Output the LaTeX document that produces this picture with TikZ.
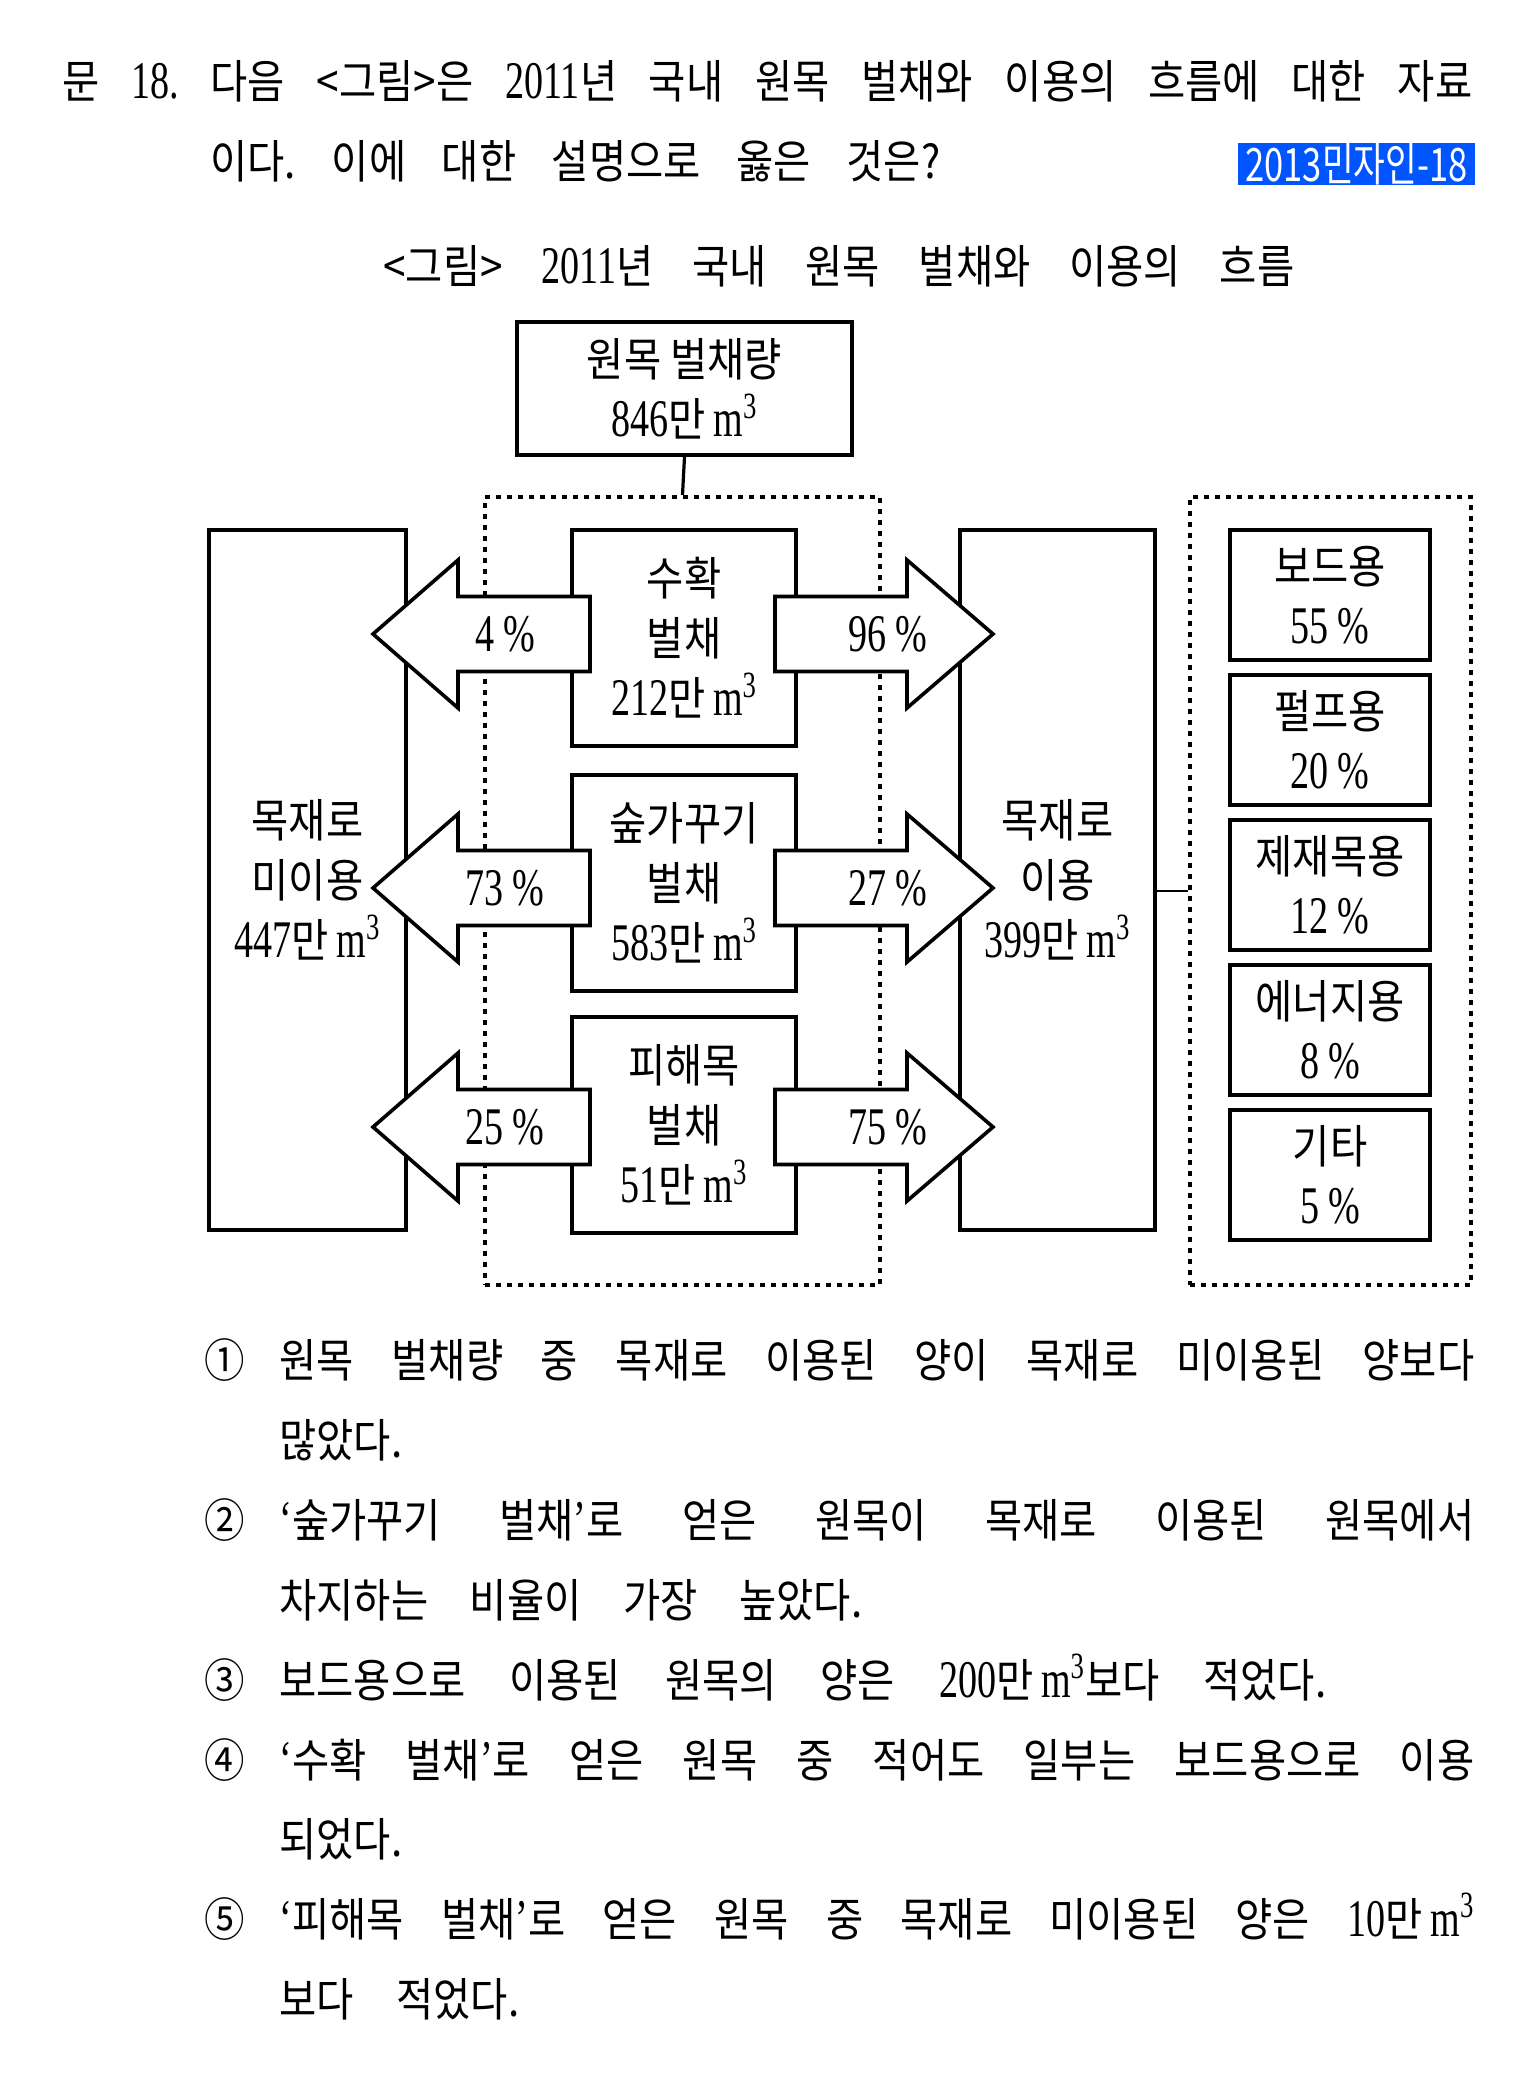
\documentclass[tikz,border=0pt]{standalone}
\usepackage{fontspec}
\setmainfont{Noto Sans CJK KR}[FakeStretch=0.88]
\newfontfamily\numf{Liberation Serif}[Scale=1.15,FakeStretch=0.72]
\newfontfamily\tagf{Noto Sans CJK KR}[FakeStretch=0.75]
\usepackage{xcolor}
\usepackage{tikz}
\usetikzlibrary{calc}
\definecolor{tagblue}{RGB}{0,85,255}
\frenchspacing
\tikzset{
  caja/.style={draw,line width=1.8pt,fill=white,inner sep=0pt,align=center,font=\mfont},
  marco/.style={draw,line width=2pt,dash pattern=on 2.5pt off 3pt,inner sep=0pt},
  flecha/.style={draw,line width=1.8pt,fill=white,line join=miter},
  linea/.style={anchor=base west,inner sep=0pt,font=\mfont}
}
\newcommand{\mfont}{\fontsize{23pt}{30pt}\selectfont}
\newcommand{\vol}[1]{{\numf #1}만\,{\numf m\textsuperscript{3}}}
\newcommand{\pct}[1]{{\numf #1\,\%}}

\begin{document}
\begin{tikzpicture}[x=0.5pt,y=-0.5pt]
\fill[white] (0,0) rectangle (1535,2085);
\useasboundingbox (0,0) rectangle (1535,2085);
\node[linea] (q1) at (62,98) {\makebox[705pt][s]{문 {\numf 18.} 다음 <그림>은 {\numf 2011}년 국내 원목 벌채와 이용의 흐름에 대한 자료}};
\node[linea] (q2) at (210,178) {\makebox[365pt][s]{이다. 이에 대한 설명으로 옳은 것은?}};
\node[fill=tagblue,text=white,minimum width=118.5pt,minimum height=21pt,inner sep=0pt,font=\tagf\fontsize{23pt}{23pt}\selectfont] (tag) at (1356.5,164) {2013민자인-18};
\node[linea] (cap) at (383,283) {\makebox[455.5pt][s]{<그림> {\numf 2011}년 국내 원목 벌채와 이용의 흐름}};
\node[caja,minimum width=167.5pt,minimum height=66.5pt] (total) at (684.5,388.5) {원목 벌채량\\\vol{846}};
\node[marco,minimum width=197.5pt,minimum height=394pt] (corte) at (682.5,891) {};
\node[marco,minimum width=140.5pt,minimum height=394pt] (usos) at (1330.5,891) {};
\draw[line width=1.6pt] (total.south) -- (corte.north);
\node[caja,minimum width=98.5pt,minimum height=350pt] (noUso) at (307.5,880) {목재로\\미이용\\\vol{447}};
\node[caja,minimum width=97.5pt,minimum height=350pt] (uso) at (1057.5,880) {목재로\\이용\\\vol{399}};
\draw[line width=0.8pt] (uso.east |- usos.west) -- (usos.west);
\node[caja,minimum width=112pt,minimum height=108pt] (c1) at (684,638) {수확\\벌채\\\vol{212}};
\node[caja,minimum width=112pt,minimum height=108pt] (c2) at (684,883) {숲가꾸기\\벌채\\\vol{583}};
\node[caja,minimum width=112pt,minimum height=108pt] (c3) at (684,1125) {피해목\\벌채\\\vol{51}};
\foreach \c/\a/\b [count=\i] in {634/4/96,888/73/27,1127/25/75}{
  \draw[flecha] (373,\c) -- (458,\c-74) -- (458,\c-37.5) -- (590,\c-37.5) -- (590,\c+37.5) -- (458,\c+37.5) -- (458,\c+74) -- cycle;
  \draw[flecha] (775,\c-37.5) -- (907,\c-37.5) -- (907,\c-74) -- (993,\c) -- (907,\c+74) -- (907,\c+37.5) -- (775,\c+37.5) -- cycle;
  \node[font=\mfont,inner sep=0pt] (la\i) at (505,\c) {\pct{\a}};
  \node[font=\mfont,inner sep=0pt] (ra\i) at (888,\c) {\pct{\b}};
}
\foreach \nm/\pc [count=\i] in {보드용/55,펄프용/20,제재목용/12,에너지용/8,기타/5}{
  \node[caja,minimum width=100pt,minimum height=65pt] (u\i) at (1330,450+145*\i) {\nm\\\pct{\pc}};
}
\node[linea] (o1) at (204,1377) {①};
\node[linea] (o1a) at (279,1377) {\makebox[597.5pt][s]{원목 벌채량 중 목재로 이용된 양이 목재로 미이용된 양보다}};
\node[linea] (o1b) at (279,1457) {많았다.};
\node[linea] (o2) at (204,1537) {②};
\node[linea] (o2a) at (279,1537) {\makebox[597.5pt][s]{{\numf ‘}숲가꾸기 벌채{\numf ’}로 얻은 원목이 목재로 이용된 원목에서}};
\node[linea] (o2b) at (279,1617) {\makebox[291.5pt][s]{차지하는 비율이 가장 높았다.}};
\node[linea] (o3) at (204,1697) {③};
\node[linea] (o3a) at (279,1697) {\makebox[523.5pt][s]{보드용으로 이용된 원목의 양은 \vol{200}보다 적었다.}};
\node[linea] (o4) at (204,1777) {④};
\node[linea] (o4a) at (279,1777) {\makebox[597.5pt][s]{{\numf ‘}수확 벌채{\numf ’}로 얻은 원목 중 적어도 일부는 보드용으로 이용}};
\node[linea] (o4b) at (279,1856) {되었다.};
\node[linea] (o5) at (204,1936) {⑤};
\node[linea] (o5a) at (279,1936) {\makebox[597.5pt][s]{{\numf ‘}피해목 벌채{\numf ’}로 얻은 원목 중 목재로 미이용된 양은 \vol{10}}};
\node[linea] (o5b) at (279,2016) {\makebox[120pt][s]{보다 적었다.}};
\end{tikzpicture}
\end{document}
